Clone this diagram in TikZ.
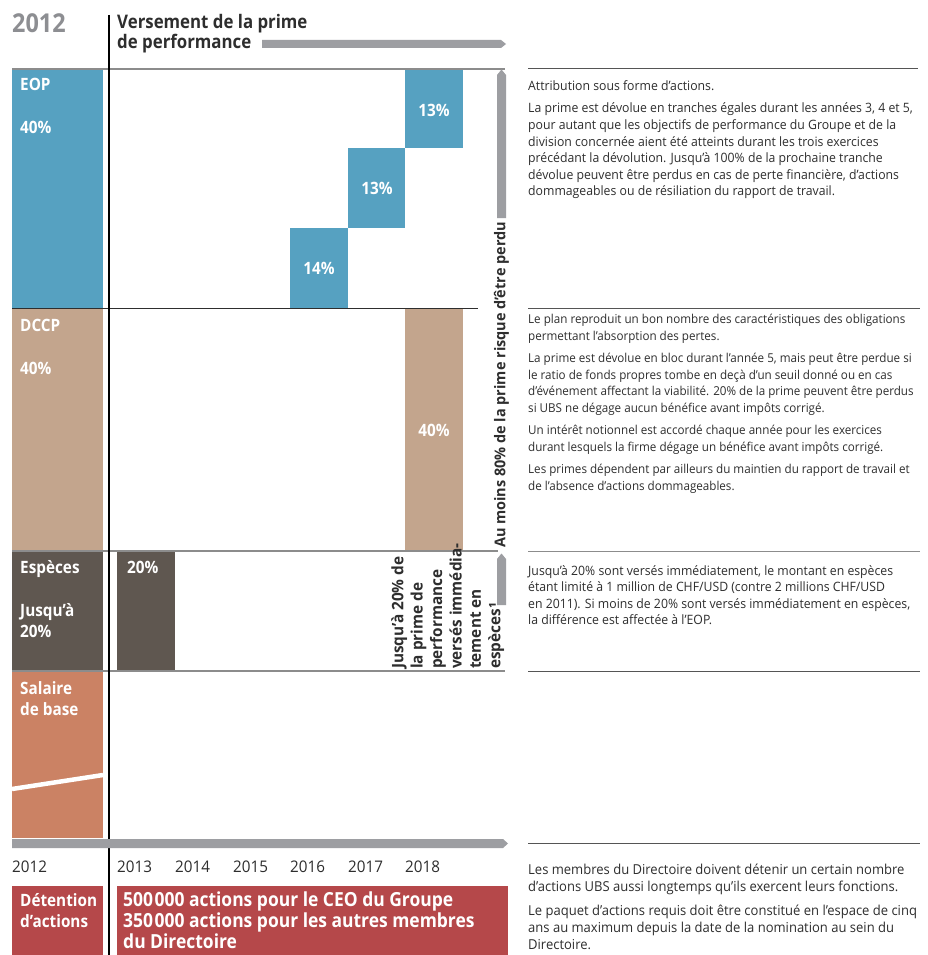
\documentclass[tikz,border=0pt]{standalone}
\usepackage{fontspec}
\newfontfamily\regf[FakeStretch=0.95]{Open Sans}
\newfontfamily\boldf[FakeStretch=0.9]{Open Sans}
\newfontfamily\boldw[FakeStretch=0.97]{Open Sans}
\definecolor{eop}{HTML}{56A1C1}
\definecolor{dccp}{HTML}{C3A58D}
\definecolor{cash}{HTML}{5F5750}
\definecolor{sal}{HTML}{CB8264}
\definecolor{own}{HTML}{B5484A}
\definecolor{bar}{HTML}{9D9EA2}
\definecolor{txt}{HTML}{2E2E2E}
\definecolor{rule}{HTML}{555555}
\definecolor{grule}{HTML}{8C8C8C}
\begin{document}
\begin{tikzpicture}[x=1pt,y=-1pt,
  lab/.style={inner sep=0, anchor=base west, text=white, font=\boldf\bfseries\fontsize{17}{20.5}\selectfont},
  pct/.style={inner sep=0, text=white, font=\boldf\bfseries\fontsize{17}{20}\selectfont},
  desc/.style={inner sep=0, anchor=north west, align=left, text=txt, font=\regf\fontsize{12.9}{16.6}\selectfont},
  yr/.style={inner sep=0, anchor=base west, text=txt, font=\regf\fontsize{16}{20}\selectfont},
  hold/.style={inner sep=0, anchor=base west, text=white, font=\boldf\bfseries\fontsize{19.4}{21}\selectfont},
  graybar/.style={fill=bar, draw=none},
  rrule/.style={draw=rule, line width=1},
  lrule/.style={draw=grule, line width=1.3}]
\useasboundingbox (0,0) rectangle (928,955);
\fill[white] (0,0) rectangle (928,955);

% header
\node[inner sep=0, anchor=base west, text=bar!90!black, font=\boldf\bfseries\fontsize{26}{28}\selectfont] (yr0) at (12,33) {2012};
\node[inner sep=0, anchor=base west, text=txt, font=\boldf\bfseries\fontsize{18.7}{20}\selectfont] (h1) at (117,29) {Versement de la prime};
\node[inner sep=0, anchor=base west, text=txt, font=\boldf\bfseries\fontsize{18.7}{20}\selectfont] (h2) at (117,49) {de performance};
\fill[graybar] (262,40) -- (501,40) -- (506,44) -- (501,48) -- (262,48) -- cycle;

% row boxes left
\fill[eop] (12,69) rectangle (103,308);
\fill[dccp] (12,308) rectangle (103,551);
\fill[cash] (12,551) rectangle (103,671);
\fill[sal] (12,671) rectangle (103,838);
\draw[white, line width=4.5] (12,789) -- (103,775);
\fill[own] (12,886) rectangle (103,955);

% vesting boxes
\fill[eop] (290,228) rectangle (348,308);
\fill[eop] (348,148) rectangle (405,228);
\fill[eop] (405,69) rectangle (463,148);
\fill[dccp] (405,308) rectangle (463,551);
\fill[cash] (117,551) rectangle (175,671);
\fill[own] (117,886) rectangle (508,955);

% rules
\draw[lrule] (12,69) -- (505,69);
\draw[draw=txt, line width=1] (12,308) -- (478,308);
\draw[lrule] (12,551) -- (498,551);
\draw[lrule] (12,671) -- (505,671);
\draw[rrule] (528,69) -- (918,69);
\draw[rrule] (528,308) -- (920,308);
\draw[draw=grule, line width=1] (528,551) -- (920,551);
\draw[rrule] (528,671) -- (920,671);
\draw[rrule] (528,843) -- (920,843);

% vertical line
\draw[black, line width=1.1] (109,15) -- (109,955);

% bottom timeline bar
\fill[graybar] (12,839) -- (503,839) -- (508,843.5) -- (503,848) -- (12,848) -- cycle;

% vertical arrows
\fill[graybar] (497,218) -- (497,75) -- (501.5,69.5) -- (506,75) -- (506,218) -- cycle;
\fill[graybar] (497,605) -- (497,559) -- (501.5,553.5) -- (506,559) -- (506,605) -- cycle;

% left labels
\node[lab] (l1) at (20,91) {EOP};
\node[lab] (l2) at (20,133) {40\%};
\node[lab] (l3) at (20,331) {DCCP};
\node[lab] (l4) at (20,374) {40\%};
\node[lab] (l5) at (20,573) {Espèces};
\node[lab] (l6) at (20,616) {Jusqu’à};
\node[lab] (l7) at (20,637) {20\%};
\node[lab] (l8) at (20,694) {Salaire};
\node[lab] (l9) at (20,715) {de base};
\node[lab] (l10) at (20,906) {Détention};
\node[lab] (l11) at (20,927) {d’actions};

% percentages
\node[pct] (p1) at (434,110) {13\%};
\node[pct] (p2) at (377,188) {13\%};
\node[pct] (p3) at (319,268) {14\%};
\node[pct] (p4) at (434,430) {40\%};
\node[lab] (p5) at (127,573) {20\%};

% holding text
\node[hold] (hold1) at (123,906) {500\kern1.5pt000 actions pour le CEO du Groupe};
\node[hold] (hold2) at (123,927) {350\kern1.5pt000 actions pour les autres membres};
\node[hold] (hold3) at (123,948) {du Directoire};

% years
\node[yr] (y12) at (12,872) {2012};
\node[yr] (y13) at (117,872) {2013};
\node[yr] (y14) at (175,872) {2014};
\node[yr] (y15) at (233,872) {2015};
\node[yr] (y16) at (290,872) {2016};
\node[yr] (y17) at (348,872) {2017};
\node[yr] (y18) at (405,872) {2018};

% rotated texts
\node[inner sep=0, rotate=90, text=txt, font=\boldw\bfseries\fontsize{14.9}{18}\selectfont] (risk) at (501.5,385) {Au moins 80\% de la prime risque d’être perdu};
\node[inner sep=0, rotate=90, anchor=north west, align=left, text=txt, font=\boldw\bfseries\fontsize{15.8}{19.4}\selectfont] (cashv) at (391,669) {Jusqu’à 20\% de\\la prime de\\performance\\versés immédia-\\tement en\\espèces¹};

% descriptions
\node[desc] (d1) at (528,80) {Attribution sous forme d’actions.\\[6.3pt]
La prime est dévolue en tranches égales durant les années 3, 4 et 5,\\
pour autant que les objectifs de performance du Groupe et de la\\
division concernée aient été atteints durant les trois exercices\\
précédant la dévolution. Jusqu’à 100\% de la prochaine tranche\\
dévolue peuvent être perdus en cas de perte financière, d’actions\\
dommageables ou de résiliation du rapport de travail.};
\node[desc, font=\regf\fontsize{12.25}{16.6}\selectfont] (d2) at (528,314) {Le plan reproduit un bon nombre des caractéristiques des obligations\\
permettant l’absorption des pertes.\\[5.8pt]
La prime est dévolue en bloc durant l’année 5, mais peut être perdue si\\
le ratio de fonds propres tombe en deçà d’un seuil donné ou en cas\\
d’événement affectant la viabilité. 20\% de la prime peuvent être perdus\\
si UBS ne dégage aucun bénéfice avant impôts corrigé.\\[5.8pt]
Un intérêt notionnel est accordé chaque année pour les exercices\\
durant lesquels la firme dégage un bénéfice avant impôts corrigé.\\[5.8pt]
Les primes dépendent par ailleurs du maintien du rapport de travail et\\
de l’absence d’actions dommageables.};
\node[desc] (d3) at (528,565) {Jusqu’à 20\% sont versés immédiatement, le montant en espèces\\
étant limité à 1 million de CHF/USD (contre 2 millions CHF/USD\\
en 2011). Si moins de 20\% sont versés immédiatement en espèces,\\
la différence est affectée à l’EOP.};
\node[desc, font=\regf\fontsize{13.7}{16.9}\selectfont] (d4) at (528,864) {Les membres du Directoire doivent détenir un certain nombre\\
d’actions UBS aussi longtemps qu’ils exercent leurs fonctions.\\[6.8pt]
Le paquet d’actions requis doit être constitué en l’espace de cinq\\
ans au maximum depuis la date de la nomination au sein du\\
Directoire.};
\end{tikzpicture}
\end{document}
